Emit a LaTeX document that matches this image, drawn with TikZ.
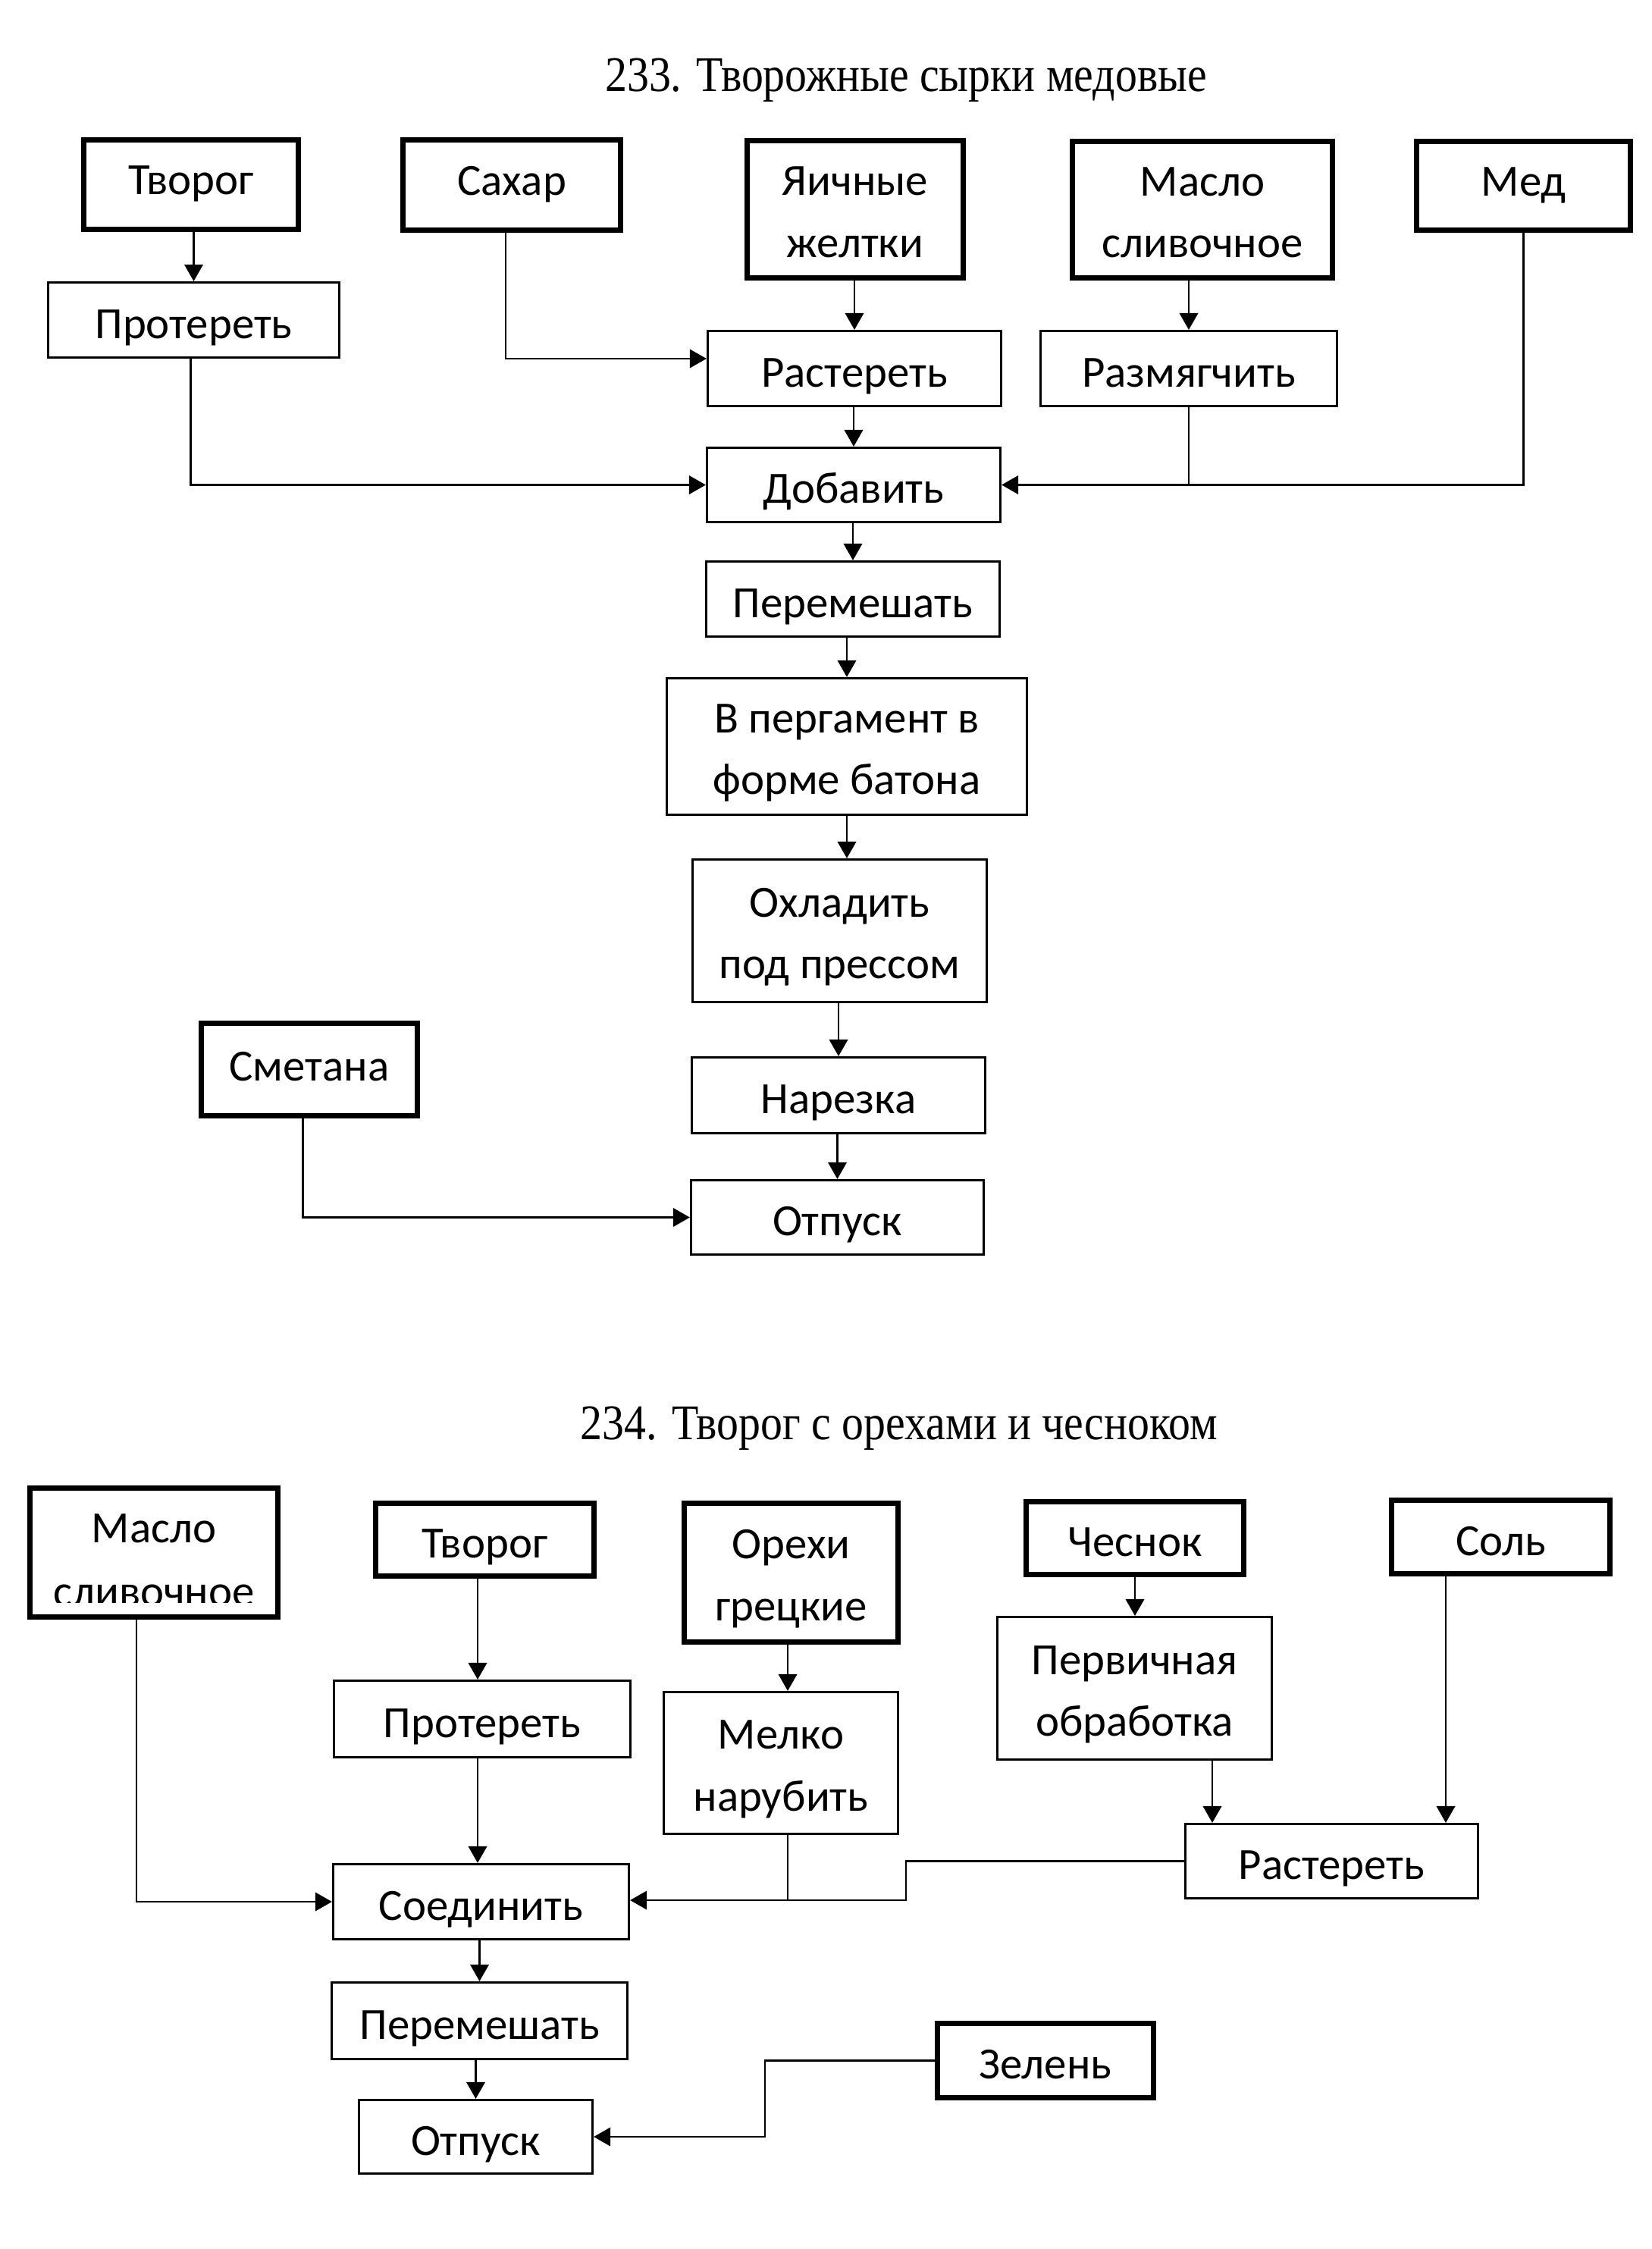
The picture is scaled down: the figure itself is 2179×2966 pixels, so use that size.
\documentclass[tikz,border=0pt]{standalone}
\usepackage{fontspec}
\setmainfont{Liberation Serif}
\newfontfamily\boxfont{Carlito}
\usetikzlibrary{arrows.meta}
\newcommand\twol[2]{\rule{0pt}{20.7pt}#1\\#2\rule[-5pt]{0pt}{5pt}}
\begin{document}
\begin{tikzpicture}[x=0.35pt,y=-0.35pt,
  bxtext/.style={font={\boxfont\fontsize{20.6pt}{28.6pt}\selectfont}, align=center},
  ibox/.style n args={4}{draw, line width=2.3pt, inner sep=0pt, bxtext,
    at={({(#1+#3)/2},{(#2+#4)/2})},
    minimum width={(#3-#1-7)*0.35pt}, minimum height={(#4-#2-7)*0.35pt}},
  pbox/.style n args={4}{draw, line width=1.1pt, inner sep=0pt, bxtext,
    at={({(#1+#3)/2},{(#2+#4)/2})},
    minimum width={(#3-#1-3)*0.35pt}, minimum height={(#4-#2-3)*0.35pt}},
  oneline/.style={text height=#1, text depth=0pt},
  oneline/.default=16.8pt,
  arr/.style={line width=1pt, -{Triangle[length=7.7pt,width=8.5pt]}},
  ln/.style={line width=1pt},
  ttl/.style={font={\fontsize{23pt}{28pt}\selectfont}, anchor=base, inner sep=0pt}
]
\useasboundingbox (0,0) rectangle (2179,2966);

% ---------- 233 ----------
\node[ttl] (t1) at (1195,120) {\scalebox{0.88}[1]{233. Творожные сырки медовые}};

\node[ibox={107}{181}{397}{306}, oneline=9.1pt] (tv1) {Творог};
\node[ibox={528}{181}{822}{307}, oneline=9.1pt] (sah) {Сахар};
\node[ibox={982}{182}{1274}{370}] (yai) {\twol{Яичные}{желтки}};
\node[ibox={1411}{183}{1761}{370}] (ms1) {\twol{Масло}{сливочное}};
\node[ibox={1865}{183}{2154}{307}, oneline=9.1pt] (med) {Мед};
\node[pbox={62}{371}{449}{473}, oneline] (pr1) {Протереть};
\node[pbox={932}{435}{1322}{537}, oneline] (ra1) {Растереть};
\node[pbox={1371}{435}{1765}{537}, oneline] (raz) {Размягчить};
\node[pbox={931}{589}{1321}{690}, oneline] (dob) {Добавить};
\node[pbox={930}{739}{1320}{841}, oneline] (pe1) {Перемешать};
\node[pbox={878}{893}{1356}{1076}] (prg) {\twol{В пергамент в}{форме батона}};
\node[pbox={912}{1132}{1303}{1323}] (ohl) {\twol{Охладить}{под прессом}};
\node[pbox={911}{1393}{1301}{1496}, oneline] (nar) {Нарезка};
\node[pbox={910}{1555}{1299}{1656}, oneline] (ot1) {Отпуск};
\node[ibox={262}{1346}{554}{1475}, oneline=10.5pt] (sme) {Сметана};

\coordinate (cs) at (667,473);
\draw[arr] (tv1.south -| pr1.north) -- (pr1.north);
\draw[arr] (yai.south -| ra1.north) -- (ra1.north);
\draw[arr] (ms1.south -| raz.north) -- (raz.north);
\draw[arr] (ra1.south -| dob.north) -- (dob.north);
\draw[arr] (dob.south -| pe1.north) -- (pe1.north);
\draw[arr] (pe1.south -| prg.north) -- (prg.north);
\draw[arr] (prg.south) -- (prg.south |- ohl.north);
\draw[arr] (ohl.south -| nar.north) -- (nar.north);
\draw[arr] (nar.south -| ot1.north) -- (ot1.north);
\draw[arr] (sah.south -| cs) -- (cs) -- (cs -| ra1.west);
\draw[arr] ([xshift=-1.5pt]pr1.south) |- (dob.west);
\draw[arr] (med.south) |- (dob.east);
\draw[ln] (raz.south) -- (raz.south |- dob.east);
\draw[arr] ([xshift=-3pt]sme.south) |- (ot1.west);

% ---------- 234 ----------
\node[ttl] (t2) at (1186,1898) {\scalebox{0.88}[1]{234. Творог с орехами и чесноком}};

\node[ibox={36}{1959}{370}{2136}] (ms2) {};
\begin{scope}
  \clip (36,1959) rectangle (370,2113);
  \node[bxtext, anchor=base, inner sep=0pt] (ms2a) at (203,2034) {Масло};
  \node[bxtext, anchor=base, inner sep=0pt] (ms2b) at (203,2118) {сливочное};
\end{scope}
\node[ibox={492}{1979}{787}{2082}, oneline] (tv2) {Творог};
\node[ibox={899}{1979}{1188}{2169}] (ore) {\twol{Орехи}{грецкие}};
\node[ibox={1350}{1977}{1644}{2080}, oneline] (che) {Чеснок};
\node[ibox={1832}{1975}{2127}{2079}, oneline] (sol) {Соль};
\node[pbox={439}{2215}{833}{2319}, oneline] (pr2) {Протереть};
\node[pbox={874}{2230}{1186}{2420}] (mel) {\twol{Мелко}{нарубить}};
\node[pbox={1314}{2131}{1679}{2322}] (per) {\twol{Первичная}{обработка}};
\node[pbox={1562}{2404}{1951}{2505}, oneline] (ra2) {Растереть};
\node[pbox={438}{2457}{831}{2559}, oneline] (soe) {Соединить};
\node[pbox={436}{2613}{829}{2717}, oneline] (pe2) {Перемешать};
\node[pbox={472}{2768}{783}{2868}, oneline] (ot2) {Отпуск};
\node[ibox={1233}{2665}{1525}{2770}, oneline] (zel) {Зелень};

\coordinate (cx2) at (630,0);
\coordinate (cx3) at (1039,0);
\coordinate (cx4) at (1599,0);
\coordinate (cx5) at (1907,0);
\coordinate (cx6) at (180,0);
\coordinate (cj) at (1195,2506);
\coordinate (cz) at (1009,0);

\draw[arr] (tv2.south -| cx2) -- (pr2.north -| cx2);
\draw[arr] (pr2.south -| cx2) -- (soe.north -| cx2);
\draw[arr] (ore.south -| cx3) -- (mel.north -| cx3);
\draw[arr] (che.south) -- (che.south |- per.north);
\draw[arr] (per.south -| cx4) -- (ra2.north -| cx4);
\draw[arr] (sol.south -| cx5) -- (ra2.north -| cx5);
\draw[arr] (ms2.south -| cx6) |- (soe.west);
\draw[arr] (ra2.west) -- (ra2.west -| cj) -- (cj) -- (cj -| soe.east);
\draw[ln] (mel.south -| cx3) -- (cj -| cx3);
\draw[arr] (soe.south -| pe2.north) -- (pe2.north);
\draw[arr] (pe2.south -| ot2.north) -- (ot2.north);
\draw[arr] (zel.west) -- (zel.west -| cz) |- (ot2.east);
\end{tikzpicture}
\end{document}
